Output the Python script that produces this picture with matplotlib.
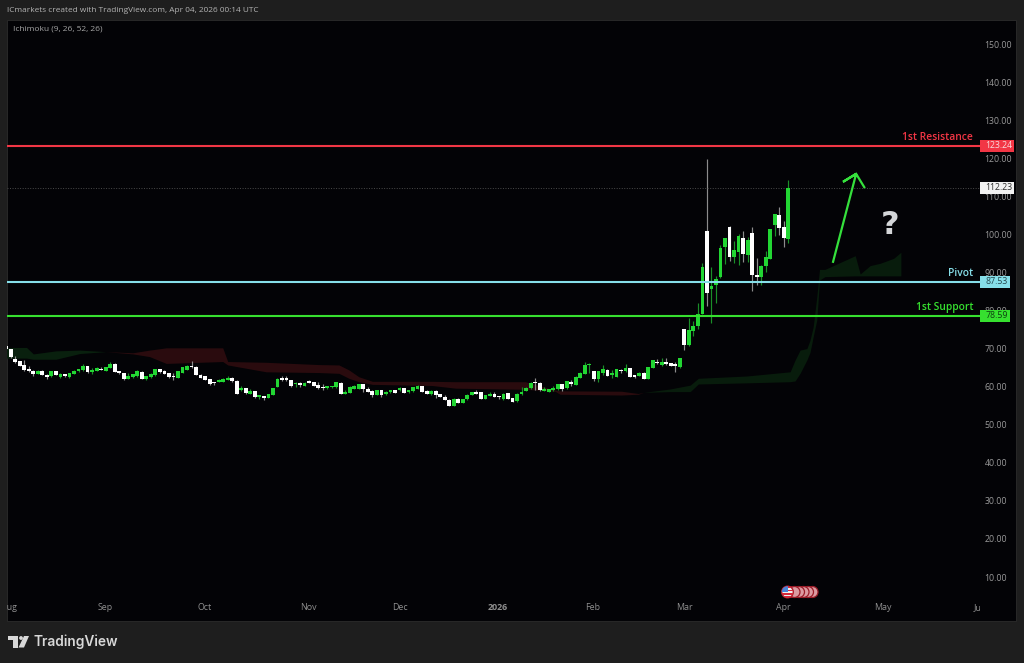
"""ICmarkets / TradingView daily chart with Ichimoku cloud and three price levels."""

import matplotlib

matplotlib.use("Agg")

import matplotlib.pyplot as plt
import numpy as np
from matplotlib.patches import Circle, FancyBboxPatch, Polygon, Rectangle

W, H = 1024, 663

BG_FRAME = "#1e1e1e"
BG_PANE = "#030306"
UP = "#22d633"
DOWN = "#ffffff"
UP_WICK = "#1a8f28"
DOWN_WICK = "#8c8c8c"
RED = "#f23645"
CYAN = "#86dfe9"
GREEN = "#36e02f"

opens = [
    70.8, 69.9, 67.3, 66.7, 65.7, 64.7, 64.2, 63.4, 64.2, 63.1, 62.7, 64.0, 62.5, 63.3, 62.5,
    63.4, 64.0, 64.3, 65.3, 63.8, 64.1, 64.7, 64.2, 64.9, 66.0, 64.1, 63.6, 62.1, 62.5, 62.7,
    63.8, 62.0, 62.5, 63.0, 64.6, 64.0, 63.5, 62.9, 62.3, 63.6, 64.5, 65.4, 65.2, 63.1, 62.7,
    62.0, 61.0, 61.2, 61.3, 61.8, 62.3, 61.6, 59.0, 59.6, 58.2, 58.8, 57.4, 57.5, 57.0, 57.8,
    60.0, 62.2, 62.2, 61.7, 60.6, 60.9, 60.3, 61.5, 61.1, 60.4, 59.8, 59.7, 59.8, 59.8, 61.0,
    58.2, 58.4, 59.4, 59.5, 60.6, 59.5, 58.9, 57.9, 59.0, 58.0, 58.5, 59.1, 59.0, 59.6, 58.5,
    58.8, 59.5, 60.2, 58.9, 58.1, 58.9, 58.0, 57.4, 56.6, 55.0, 56.8, 55.8, 56.7, 57.9, 58.7,
    58.5, 56.8, 57.6, 58.0, 57.5, 56.7, 58.3, 56.9, 56.1, 58.0, 58.9, 59.6, 61.1, 61.0, 58.9,
    58.7, 59.2, 59.3, 60.7, 59.6, 61.1, 60.5, 62.4, 63.4, 65.6, 64.0, 61.9, 63.5, 64.5, 63.0,
    62.6, 64.5, 64.0, 64.9, 63.0, 62.8, 63.7, 62.0, 64.9, 66.5, 65.6, 66.4, 66.2, 65.9, 65.1,
    75.1, 70.9, 74.6, 76.0, 79.1, 100.8, 85.6, 86.8, 88.7, 96.7, 102.0, 94.0, 95.5, 99.0, 94.7,
    100.4, 89.2, 88.9, 91.6, 93.6, 102.4, 105.2, 102.0, 98.8,
]
closes = [
    69.9, 67.7, 66.6, 65.5, 64.5, 64.0, 63.3, 64.2, 63.1, 62.6, 64.0, 63.1, 63.4, 62.7, 63.6,
    64.2, 64.6, 65.5, 63.8, 64.5, 65.0, 64.4, 65.1, 66.0, 63.9, 63.5, 62.0, 62.9, 63.2, 64.0,
    62.1, 62.7, 63.4, 64.6, 63.8, 63.4, 62.5, 62.5, 64.0, 65.1, 65.4, 65.2, 63.1, 62.3, 61.8,
    60.7, 60.9, 61.8, 62.1, 62.1, 61.4, 58.2, 59.7, 58.3, 58.8, 57.2, 57.6, 56.9, 58.0, 59.6,
    62.1, 61.7, 61.7, 60.3, 60.9, 60.5, 61.0, 61.0, 60.3, 59.6, 59.6, 60.0, 60.1, 61.1, 58.2,
    58.7, 60.0, 60.2, 60.7, 59.3, 58.7, 57.8, 59.0, 57.8, 58.7, 59.1, 58.4, 59.7, 58.4, 59.1,
    59.8, 60.2, 58.7, 58.2, 58.9, 57.8, 57.4, 56.5, 55.0, 56.8, 55.7, 56.7, 57.9, 58.6, 58.2,
    56.8, 57.8, 58.0, 57.3, 57.2, 58.2, 56.8, 56.0, 58.2, 58.7, 59.7, 61.0, 60.9, 59.0, 59.3,
    59.4, 59.5, 60.7, 59.5, 61.4, 60.8, 62.6, 63.7, 65.6, 66.0, 61.9, 64.0, 64.6, 62.8, 63.5,
    64.6, 64.0, 65.0, 62.6, 62.6, 63.7, 62.1, 65.1, 66.9, 66.1, 66.4, 66.0, 65.4, 65.5, 67.5,
    70.9, 74.9, 76.0, 79.0, 91.5, 84.7, 86.5, 88.4, 96.4, 99.0, 94.0, 95.8, 99.7, 94.9, 98.5,
    89.2, 88.7, 91.8, 94.1, 101.3, 105.3, 101.7, 99.0, 112.3,
]
highs = [
    71.0, 70.0, 68.0, 66.8, 67.0, 65.4, 64.4, 64.4, 64.4, 63.2, 64.1, 64.1, 63.5, 63.4, 63.7,
    64.3, 64.7, 65.9, 65.4, 64.8, 65.2, 65.2, 65.2, 66.4, 66.1, 64.2, 63.7, 63.7, 63.3, 64.3,
    64.0, 62.8, 63.5, 64.7, 64.7, 64.5, 63.6, 63.5, 64.1, 65.2, 65.6, 66.7, 65.3, 63.2, 62.8,
    62.1, 61.1, 61.9, 62.2, 62.9, 62.6, 61.7, 60.2, 59.7, 59.3, 58.9, 57.7, 57.6, 58.1, 59.7,
    62.2, 62.8, 62.7, 61.8, 61.3, 61.3, 61.1, 61.7, 61.2, 61.1, 60.7, 60.2, 60.2, 61.2, 61.1,
    59.1, 60.1, 60.4, 60.8, 60.7, 60.0, 59.0, 59.1, 59.1, 58.8, 59.2, 59.2, 59.8, 59.7, 59.2,
    59.9, 60.4, 60.3, 59.0, 59.0, 59.0, 58.1, 57.8, 56.7, 56.9, 56.9, 56.8, 58.0, 58.7, 59.0,
    58.6, 57.9, 58.5, 58.5, 57.6, 58.3, 58.4, 57.0, 58.3, 59.8, 59.8, 61.1, 62.4, 61.1, 60.0,
    59.5, 60.3, 60.8, 60.8, 61.5, 61.7, 62.7, 63.8, 66.4, 66.1, 64.1, 64.1, 65.6, 64.6, 64.5,
    64.7, 64.6, 65.9, 65.0, 63.1, 63.8, 63.8, 65.2, 67.0, 67.2, 67.4, 67.4, 66.3, 66.6, 67.6,
    75.2, 78.0, 77.3, 82.1, 92.6, 119.7, 91.5, 89.0, 97.2, 99.1, 102.1, 98.3, 100.0, 100.9, 99.2,
    102.0, 93.7, 91.9, 95.7, 101.5, 105.4, 107.1, 103.5, 114.3,
]
lows = [
    69.8, 67.6, 66.2, 65.4, 64.2, 63.9, 62.9, 63.3, 63.0, 62.1, 62.6, 63.0, 62.3, 62.6, 62.4,
    63.3, 63.9, 64.2, 63.7, 63.3, 64.0, 64.3, 64.1, 64.8, 63.8, 63.2, 61.8, 62.0, 62.4, 62.6,
    62.0, 61.7, 62.4, 62.9, 63.7, 63.3, 62.4, 61.8, 62.2, 63.5, 64.4, 64.9, 63.0, 62.2, 61.7,
    60.5, 60.5, 61.1, 61.2, 61.7, 61.3, 58.1, 58.9, 58.0, 58.1, 57.1, 56.8, 56.4, 56.9, 57.7,
    59.9, 61.6, 61.4, 60.0, 60.0, 60.0, 60.2, 60.9, 60.2, 59.5, 59.1, 59.4, 59.6, 59.7, 58.1,
    58.1, 58.3, 59.3, 59.4, 58.7, 58.6, 57.4, 57.8, 57.2, 57.9, 58.4, 58.3, 58.9, 58.3, 58.4,
    58.7, 59.4, 58.6, 58.1, 57.9, 57.1, 57.3, 56.4, 54.9, 54.9, 55.6, 55.7, 56.6, 57.8, 58.1,
    56.7, 56.7, 57.5, 57.2, 56.7, 56.6, 56.7, 55.9, 56.0, 57.9, 58.8, 59.5, 59.1, 58.9, 58.8,
    58.6, 58.9, 59.2, 58.9, 59.5, 60.3, 60.4, 62.3, 63.3, 63.7, 61.5, 61.3, 63.0, 62.7, 62.4,
    62.5, 63.6, 63.9, 62.5, 62.3, 62.7, 62.0, 61.9, 64.8, 65.9, 65.5, 65.7, 65.3, 63.9, 65.0,
    69.6, 70.8, 73.4, 75.1, 79.0, 81.2, 76.8, 81.9, 88.6, 92.2, 93.0, 92.4, 92.0, 92.8, 92.8,
    85.0, 86.7, 86.7, 90.0, 93.5, 99.6, 99.8, 96.8, 97.8,
]

# Ichimoku cloud, one block per colour (x is the bar number).
cloud_green1_x = [0, 4.5, 6, 11, 16.3, 22]
cloud_green1_top = [70.3, 70.3, 68.6, 69.4, 69.6, 69.2]
cloud_green1_bot = [67.5, 67.5, 67.2, 67.2, 68.7, 69.2]

cloud_red_x = [22, 28, 31.7, 35.4, 47.9, 49, 57.5, 69.2, 73.6, 75.8, 78, 81, 94.2, 99.4,
               114.8, 121.4, 122.5, 136.1, 139.8, 141]
cloud_red_top = [69.2, 68.9, 69.6, 70.2, 70.2, 66.6, 66.4, 65.8, 65.7, 64.4, 62.6, 61.4,
                 61.4, 61.3, 61.3, 59.1, 58.9, 58.8, 58.2, 58.5]
cloud_red_bot = [69.2, 68.6, 67.9, 66.1, 66.6, 65.7, 63.9, 63.7, 63.5, 62.2, 61.3, 60.6,
                 60.3, 59.6, 59.3, 58.8, 58.0, 57.8, 58.0, 58.5]

cloud_green2_x = [141, 146.9, 151.3, 153.1, 163.8, 173.4, 174.5, 175.6, 177.1, 177.8, 178.5,
                  179.3, 179.9, 181.1, 187.8, 188.9, 191.1, 193.3, 196.3, 197.9]
cloud_green2_top = [58.5, 59.4, 60.4, 62.2, 62.8, 63.9, 67.0, 69.6, 70.0, 72.2, 75.7, 83.6,
                    90.8, 90.8, 94.4, 89.6, 91.8, 92.4, 93.7, 95.3]
cloud_green2_bot = [58.5, 58.7, 58.7, 60.7, 61.0, 61.3, 61.5, 63.5, 67.0, 69.0, 73.1, 77.5,
                    88.0, 88.9, 89.1, 89.1, 89.1, 89.1, 89.1, 89.1]

price_ticks = [10, 20, 30, 40, 50, 60, 70, 80, 90, 100, 110, 120, 130, 140, 150]
month_labels = ["Aug", "Sep", "Oct", "Nov", "Dec", "2026", "Feb", "Mar", "Apr", "May", "Jun"]
month_bars = [0.6, 21.9, 44, 66.9, 87.1, 108.8, 129.8, 150, 171.9, 194, 215.4]

resistance, pivot, support, last_price = 123.24, 87.53, 78.59, 112.23

arrow_x = [182.9, 188, 185.1, 188, 189.8]
arrow_y = [92.8, 115.9, 113.8, 115.9, 112.4]

plt.rcParams["font.family"] = ["Open Sans", "DejaVu Sans"]

fig = plt.figure(figsize=(W / 100, H / 100), dpi=100, facecolor=BG_FRAME)

# pixel overlay for the frame, logo and header texts
deco = fig.add_axes([0, 0, 1, 1], zorder=0)
deco.set_xlim(0, W)
deco.set_ylim(H, 0)
deco.axis("off")
deco.add_patch(Rectangle((7, 20), 1016 - 7, 621 - 20, fc=BG_PANE, ec="#2c2c2c", lw=0.6))

ax = fig.add_axes([7 / W, 1 - 621 / H, (980 - 7) / W, (621 - 20) / H], zorder=1)
ax.set_facecolor("none")
ax.set_xlim(0.18, 215.4)
ax.set_ylim(-1.557, 156.31)
for side in ax.spines.values():
    side.set_visible(False)
ax.set_xticks([])
ax.yaxis.tick_right()
ax.set_yticks(price_ticks, [f"{p:.2f}" for p in price_ticks])
ax.tick_params(axis="y", length=0, pad=3.2, labelsize=6.3, labelcolor="#9a9a9a")

# cloud
ax.fill_between(cloud_green1_x, cloud_green1_bot, cloud_green1_top, color="#09200e", lw=0, zorder=1)
ax.fill_between(cloud_red_x, cloud_red_bot, cloud_red_top, color="#2a0b0e", lw=0, zorder=1)
ax.fill_between(cloud_green2_x, cloud_green2_bot, cloud_green2_top, color="#081c0c", lw=0, zorder=1)

# candles
o = np.array(opens)
c = np.array(closes)
bars = np.arange(len(o))
rising = c >= o
ax.vlines(bars, lows, highs, colors=np.where(rising, UP_WICK, DOWN_WICK), lw=0.85, zorder=2)
ax.bar(bars, np.maximum(np.abs(c - o), 0.35), bottom=np.minimum(o, c), width=0.84,
       color=np.where(rising, UP, DOWN), lw=0, zorder=3)

# levels
ax.axhline(last_price, color="#4a4a4a", lw=0.7, ls=(0, (1, 1.6)), zorder=2)
for level, col in [(resistance, RED), (pivot, CYAN), (support, GREEN)]:
    ax.axhline(level, color=col, lw=1.5, zorder=4)

for text, level, col in [("1st Resistance", resistance, RED), ("Pivot", pivot, CYAN),
                         ("1st Support", support, GREEN)]:
    ax.annotate(text, xy=(973, level), xycoords=("figure pixels", "data"),
                xytext=(0, 2.2), textcoords="offset points", ha="right", va="bottom",
                color=col, fontsize=7.4, fontweight="semibold", zorder=5)

# price tags on the scale, wider for three digit prices
yaxis_tf = ax.get_yaxis_transform()
for level, face, ink in [(resistance, RED, "#f7dcdc"), (last_price, "#f2f2f2", "#2e2e2e"),
                         (pivot, CYAN, "#24474d"), (support, GREEN, "#0d3d10")]:
    tag_w = 34 if level >= 100 else 30
    ax.add_patch(Rectangle((1.0, level - 1.6), tag_w / 973, 3.2, transform=yaxis_tf, fc=face,
                           ec="none", clip_on=False, zorder=6))
    ax.text(1.0056, level, f"{level:.2f}", transform=yaxis_tf, ha="left", va="center",
            color=ink, fontsize=6.3, zorder=7, clip_on=False)

# hand-drawn arrow and question mark
ax.plot(arrow_x, arrow_y, color="#35e03c", lw=1.6, solid_joinstyle="miter", zorder=5)
ax.text(195.5, 102.2, "?", color="#d4d6d8", fontsize=23, fontweight="bold", ha="center",
        va="center", family="DejaVu Sans", zorder=5)

# time axis lives inside the pane, so Aug and Jun get cut by its edges
for name, bar in zip(month_labels, month_bars):
    ax.text(bar, 1.86, name, color="#8f8f8f", fontsize=6.4, ha="center", va="center",
            clip_on=True, fontweight="bold" if name == "2026" else "normal", zorder=5)

# header
deco.text(7, 10, "ICmarkets created with TradingView.com, Apr 04, 2026 00:14 UTC",
          color="#b4b4b4", fontsize=5.95, ha="left", va="center")
deco.text(13, 29, "Ichimoku (9, 26, 52, 26)", color="#a6a6a6", fontsize=6.05, ha="left",
          va="center", zorder=5)

# TradingView logo
deco.add_patch(Polygon([(8, 636), (18, 636), (18, 647.5), (13, 647.5), (13, 640), (8, 640)],
                       fc="#d8d8d8", ec="none"))
deco.add_patch(Circle((21, 638), 1.9, fc="#d8d8d8", ec="none"))
deco.add_patch(Polygon([(24, 636), (29, 636), (24, 647.5), (18.5, 647.5)], fc="#d8d8d8", ec="none"))
deco.text(34, 642, "TradingView", color="#d8d8d8", fontsize=9.9, fontweight="semibold",
          family="Inter", ha="left", va="center")

# country flag pill above the time axis
deco.add_patch(FancyBboxPatch((784, 587), 32, 10, boxstyle="round,pad=0,rounding_size=5",
                              fc="#c8202f", ec="#a81c2a", lw=1.2, zorder=6))
for cx in [812.5, 808, 803.5, 799, 794.5]:
    deco.add_patch(Circle((cx, 592), 5.5, fc="#dc9aa0", ec="#9a1c28", lw=0.9, zorder=6))
flag = Circle((787.5, 592), 5.8, fc="#f0f0f0", ec="#b01e2c", lw=1.0, zorder=7)
deco.add_patch(flag)
for y0 in [586, 589.6, 593.2, 596]:
    stripe = Rectangle((781, y0), 14, 1.5, fc="#d8283a", ec="none", zorder=7)
    deco.add_patch(stripe)
    stripe.set_clip_path(flag)
canton = Rectangle((781, 586), 6.5, 5.5, fc="#4a86d8", ec="none", zorder=7)
deco.add_patch(canton)
canton.set_clip_path(flag)

fig.savefig("out.png", dpi=100, facecolor=fig.get_facecolor())
